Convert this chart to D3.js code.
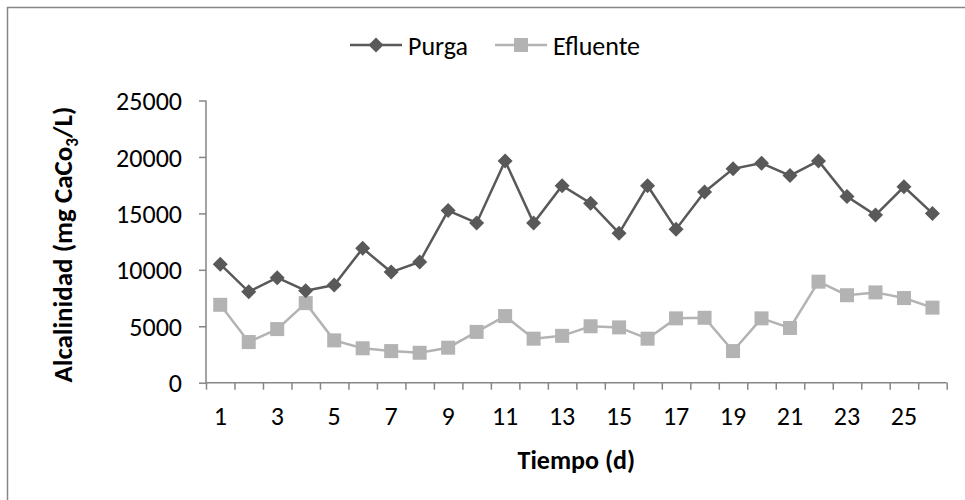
<!DOCTYPE html>
<html>
<head>
<meta charset="utf-8">
<script src="https://cdn.jsdelivr.net/npm/d3@7"></script>
<style>
  html, body { margin: 0; padding: 0; background: #fff; }
  svg { display: block; }
  text { font-family: Carlito, Calibri, Lato, "Open Sans", sans-serif; fill: #000; }
</style>
</head>
<body>
<svg id="chart" width="965" height="500"></svg>
<script>
// Alkalinity over time for purge and effluent streams
const days = d3.range(1, 27);
const purga = [10500, 8050, 9300, 8150, 8650, 11900, 9800, 10700, 15250, 14150,
               19650, 14150, 17450, 15900, 13250, 17450, 13600, 16900, 18950, 19450,
               18350, 19650, 16500, 14850, 17350, 15000];
const efluente = [6900, 3600, 4750, 7050, 3750, 3050, 2800, 2650, 3100, 4500,
                  5900, 3900, 4150, 5000, 4900, 3900, 5700, 5750, 2800, 5700,
                  4850, 8950, 7750, 8000, 7500, 6650];
const yTicks = [0, 5000, 10000, 15000, 20000, 25000];
const xTickLabels = [1, 3, 5, 7, 9, 11, 13, 15, 17, 19, 21, 23, 25];
const seriesNames = ["Purga", "Efluente"];

const axisColor = "#868686";
const purgaColor = "#595959";
const efluenteColor = "#b3b3b3";
const fontSize = 26;

const svg = d3.select("#chart");

// chart frame (runs past the right and bottom edges)
svg.append("path")
  .attr("d", "M7.5,500 V7.5 H965")
  .attr("fill", "none")
  .attr("stroke", axisColor)
  .attr("stroke-width", 1.5);

const x = d3.scaleLinear().domain([0.5, 26.5]).range([206, 946.7]);
const y = d3.scaleLinear().domain([0, 25000]).range([382.7, 100.5]);

// y axis
const yAxis = svg.append("g")
  .attr("transform", `translate(${x(0.5)},0)`)
  .call(d3.axisLeft(y).tickValues(yTicks).tickSize(7).tickPadding(17)
    .tickFormat(d3.format("d")));
yAxis.select(".domain").attr("stroke", axisColor).attr("stroke-width", 1.5)
  .attr("d", `M0,${y(25000)}V${y(0)}`);
yAxis.selectAll(".tick line").attr("stroke", axisColor).attr("stroke-width", 1.5);
yAxis.selectAll(".tick text").attr("font-size", fontSize).attr("fill", "#000")
  .attr("dy", "0.35em")
  .style("font-family", "Carlito, Calibri, Lato, sans-serif");

// x axis: tick marks on category boundaries, labels on odd days
const bounds = d3.range(0.5, 27, 1);
const xAxis = svg.append("g")
  .attr("transform", `translate(0,${y(0)})`)
  .call(d3.axisBottom(x).tickValues(bounds).tickSize(7).tickFormat(""));
xAxis.select(".domain").attr("stroke", axisColor).attr("stroke-width", 1.5)
  .attr("d", `M${x(0.5)},0H${x(26.5)}`);
xAxis.selectAll(".tick line").attr("stroke", axisColor).attr("stroke-width", 1.5);

svg.append("g").selectAll("text")
  .data(xTickLabels)
  .join("text")
  .attr("x", d => x(d))
  .attr("y", 425)
  .attr("text-anchor", "middle")
  .attr("font-size", fontSize)
  .text(d => d);

// axis titles
svg.append("text")
  .attr("x", (x(0.5) + x(26.5)) / 2)
  .attr("y", 469)
  .attr("text-anchor", "middle")
  .attr("font-size", fontSize)
  .attr("font-weight", "bold")
  .text("Tiempo (d)");

const yTitle = svg.append("text")
  .attr("transform", `translate(72,${(y(0) + y(25000)) / 2 + 3}) rotate(-90)`)
  .attr("text-anchor", "middle")
  .attr("font-size", 27)
  .attr("font-weight", "bold");
yTitle.append("tspan").text("Alcalinidad (mg CaCo");
yTitle.append("tspan").attr("font-size", 17).attr("dy", 6).text("3");
yTitle.append("tspan").attr("dy", -6).text("/L)");

// series
const line = d3.line().x((d, i) => x(days[i])).y(d => y(d));

svg.append("path").datum(efluente)
  .attr("d", line).attr("fill", "none")
  .attr("stroke", efluenteColor).attr("stroke-width", 2.5);
svg.append("path").datum(purga)
  .attr("d", line).attr("fill", "none")
  .attr("stroke", purgaColor).attr("stroke-width", 2.5);

const sq = 14;
svg.append("g").selectAll("rect")
  .data(efluente)
  .join("rect")
  .attr("x", (d, i) => x(days[i]) - sq / 2)
  .attr("y", d => y(d) - sq / 2)
  .attr("width", sq).attr("height", sq)
  .attr("fill", efluenteColor);

const dm = 7.5;
const diamond = (cx, cy) => `M${cx},${cy - dm}L${cx + dm},${cy}L${cx},${cy + dm}L${cx - dm},${cy}Z`;
svg.append("g").selectAll("path")
  .data(purga)
  .join("path")
  .attr("d", (d, i) => diamond(x(days[i]), y(d)))
  .attr("fill", purgaColor);

// legend
const legend = svg.append("g");
legend.append("line").attr("x1", 350).attr("x2", 402).attr("y1", 45).attr("y2", 45)
  .attr("stroke", purgaColor).attr("stroke-width", 2.5);
legend.append("path").attr("d", diamond(376, 45)).attr("fill", purgaColor);
legend.append("text").attr("x", 408).attr("y", 55).attr("font-size", fontSize).text(seriesNames[0]);

legend.append("line").attr("x1", 495).attr("x2", 547).attr("y1", 45).attr("y2", 45)
  .attr("stroke", efluenteColor).attr("stroke-width", 2.5);
legend.append("rect").attr("x", 521 - sq / 2).attr("y", 45 - sq / 2)
  .attr("width", sq).attr("height", sq).attr("fill", efluenteColor);
legend.append("text").attr("x", 553).attr("y", 55).attr("font-size", fontSize).text(seriesNames[1]);
</script>
</body>
</html>
